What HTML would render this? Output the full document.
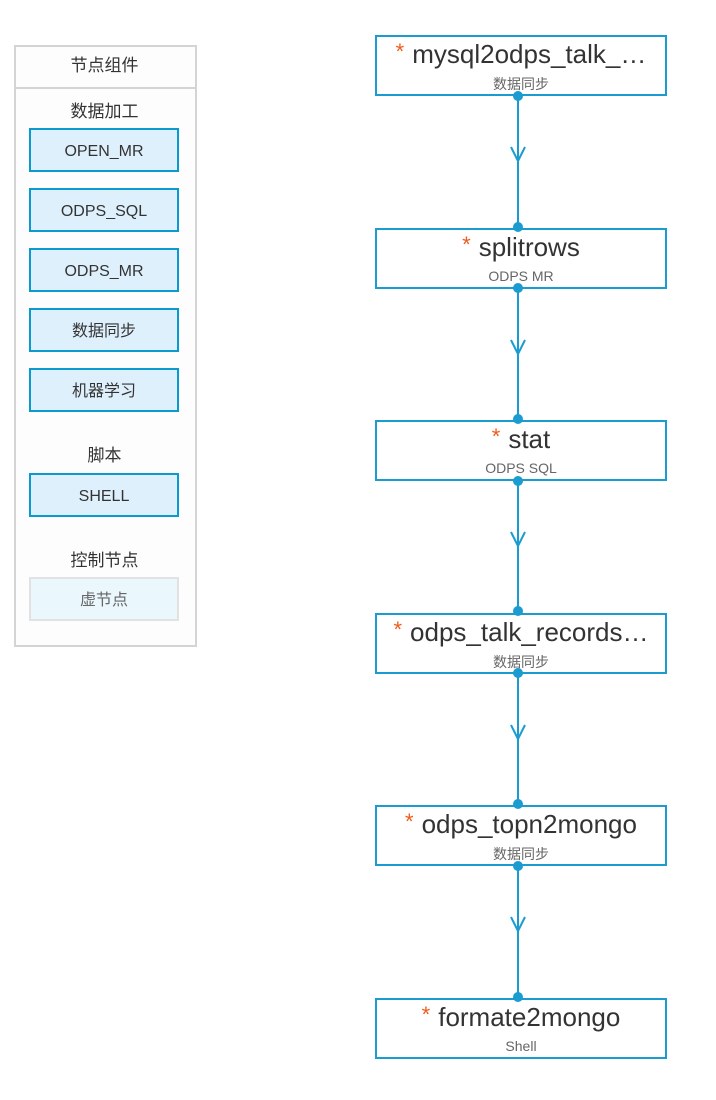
<!DOCTYPE html>
<html><head><meta charset="utf-8"><style>
body{margin:0;width:716px;height:1100px;background:#fff;position:relative;font-family:"Liberation Sans","Noto Sans CJK SC",sans-serif;overflow:hidden}
.a{position:absolute}
.panel{left:14px;top:45px;width:179px;height:598px;border:2px solid #d4d4d4;background:#fdfdfd}
.hd{left:14px;top:45px;width:181px;height:42px;border-bottom:2px solid #d4d4d4;text-align:center;line-height:42px;font-size:17px;color:#333}
.sec{left:14px;width:181px;text-align:center;font-size:17px;color:#333}
.btn{left:29px;width:146px;height:40px;border:2px solid #0a9acf;background:#dff0fd;text-align:center;line-height:44px;font-size:16px;color:#333}
.node{left:375px;width:288px;height:57px;border:2px solid #1a9cd0;background:#fff}
.t{position:absolute;left:0;right:0;top:2px;text-align:center;font-size:26px;color:#333;white-space:nowrap}
.t b{color:#f05a1a;font-weight:normal;font-size:22px;margin-right:8px;position:relative;top:-4px}
.s{position:absolute;left:0;right:0;top:38px;text-align:center;font-size:14px;color:#666}
</style></head><body>
<div class="a panel"></div>
<div class="a hd">节点组件</div>
<div class="a sec" style="top:97px">数据加工</div>
<div class="a btn" style="top:128px">OPEN_MR</div>
<div class="a btn" style="top:188px">ODPS_SQL</div>
<div class="a btn" style="top:248px">ODPS_MR</div>
<div class="a btn" style="top:308px">数据同步</div>
<div class="a btn" style="top:368px">机器学习</div>
<div class="a sec" style="top:441px">脚本</div>
<div class="a btn" style="top:473px">SHELL</div>
<div class="a sec" style="top:546px">控制节点</div>
<div class="a btn" style="top:577px;border-color:#e2e2e2;background:#eaf7fd;color:#666">虚节点</div>

<div class="a node" style="top:35px"><div class="t"><b>*</b>mysql2odps_talk_…</div><div class="s" style="top:37px">数据同步</div></div>
<div class="a node" style="top:228px"><div class="t"><b>*</b>splitrows</div><div class="s">ODPS MR</div></div>
<div class="a node" style="top:420px"><div class="t"><b>*</b>stat</div><div class="s">ODPS SQL</div></div>
<div class="a node" style="top:613px"><div class="t"><b>*</b>odps_talk_records…</div><div class="s" style="top:37px">数据同步</div></div>
<div class="a node" style="top:805px"><div class="t"><b>*</b>odps_topn2mongo</div><div class="s" style="top:37px">数据同步</div></div>
<div class="a node" style="top:998px"><div class="t"><b>*</b>formate2mongo</div><div class="s">Shell</div></div>

<svg class="a" style="left:0;top:0;z-index:5" width="716" height="1100">
<g stroke="#1a9cd0" stroke-width="2" fill="none">
<line x1="518" y1="97" x2="518" y2="226"/>
<line x1="518" y1="290" x2="518" y2="418"/>
<line x1="518" y1="482" x2="518" y2="611"/>
<line x1="518" y1="675" x2="518" y2="803"/>
<line x1="518" y1="867" x2="518" y2="996"/>
<polyline points="511,147 518,161 525,147"/>
<polyline points="511,340 518,354 525,340"/>
<polyline points="511,532 518,546 525,532"/>
<polyline points="511,725 518,739 525,725"/>
<polyline points="511,917 518,931 525,917"/>
</g>
<g fill="#1a9cd0">
<circle cx="518" cy="96" r="5"/><circle cx="518" cy="227" r="5"/>
<circle cx="518" cy="288" r="5"/><circle cx="518" cy="419" r="5"/>
<circle cx="518" cy="481" r="5"/><circle cx="518" cy="611" r="5"/>
<circle cx="518" cy="673" r="5"/><circle cx="518" cy="804" r="5"/>
<circle cx="518" cy="866" r="5"/><circle cx="518" cy="997" r="5"/>
</g>
</svg>
</body></html>
